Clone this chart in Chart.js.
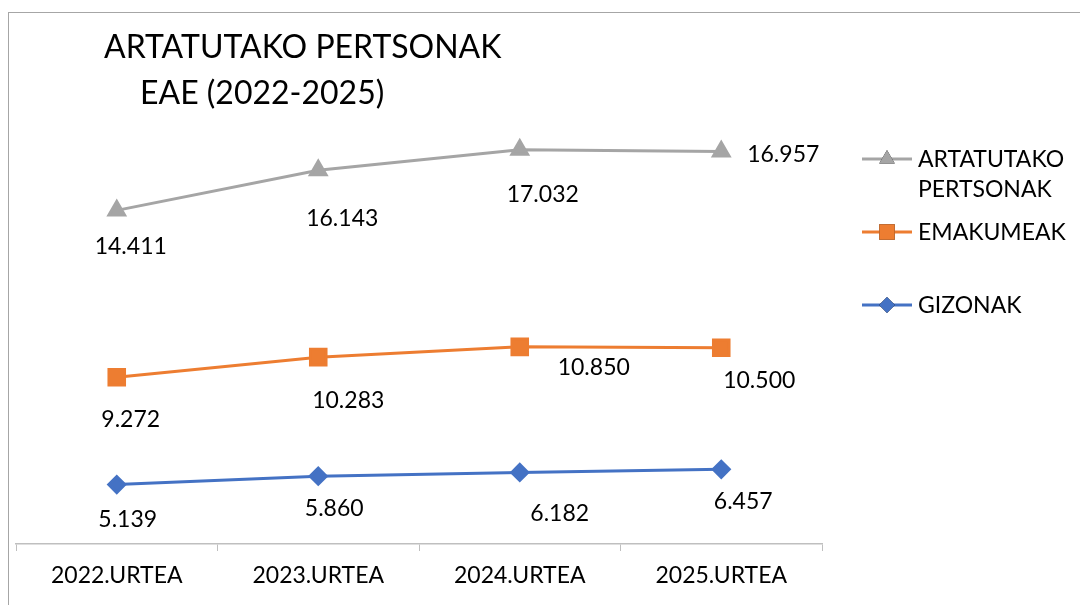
<!DOCTYPE html>
<html>
<head>
<meta charset="utf-8">
<script src="https://cdn.jsdelivr.net/npm/chart.js@4.4.1/dist/chart.umd.min.js"></script>
<style>
  html, body { margin: 0; padding: 0; background: #fff; }
  #wrap { width: 1080px; height: 605px; }
</style>
</head>
<body>
<div id="wrap"><canvas id="chart" width="1080" height="605"></canvas></div>
<script>
// categories and values (stacked line, like the Excel original)
const years = ['2022.URTEA', '2023.URTEA', '2024.URTEA', '2025.URTEA'];
const gizonak = [5139, 5860, 6182, 6457];
const emakumeak = [9272, 10283, 10850, 10500];
const artatutakoak = [14411, 16143, 17032, 16957];

// where each value label sits relative to its point (dx, dy)
const offsGizonak = [[11, 35], [16, 32], [40, 41], [22, 32]];
const offsEmakumeak = [[14, 42], [30, 43], [74, 21], [38, 33]];
const offsArtatutakoak = [[14, 36], [24, 48], [23, 45], [62, 3]];

const FONT = 'Lato, "Open Sans", sans-serif';
const GREY = '#A5A5A5';
const ORANGE = '#ED7D31';
const BLUE = '#4472C4';

function fmt(v) {
  return String(v).replace(/\B(?=(\d{3})+(?!\d))/g, '.');
}

const chartDeco = {
  id: 'chartDeco',
  beforeDraw(chart) {
    const ctx = chart.ctx;
    ctx.save();
    ctx.fillStyle = '#fff';
    ctx.fillRect(0, 0, chart.width, chart.height);
    ctx.strokeStyle = '#A6A6A6';
    ctx.lineWidth = 1;
    ctx.strokeRect(8.5, 12.5, 1300, 800);
    ctx.restore();
  },
  afterDraw(chart) {
    const ctx = chart.ctx;
    ctx.save();
    // title
    ctx.fillStyle = '#000';
    ctx.textBaseline = 'middle';
    ctx.textAlign = 'left';
    ctx.font = '32px ' + FONT;
    ctx.fillText('ARTATUTAKO PERTSONAK', 104, 48);
    ctx.fillText('EAE (2022-2025)', 140, 94);

    // value labels
    ctx.font = '23px ' + FONT;
    ctx.textAlign = 'center';
    chart.data.datasets.forEach((ds, i) => {
      const meta = chart.getDatasetMeta(i);
      meta.data.forEach((pt, j) => {
        const o = ds.labelOffsets[j];
        ctx.fillText(fmt(ds.data[j]), pt.x + o[0], pt.y + o[1]);
      });
    });

    // legend (drawn by hand so the two-line entry sits like the original)
    const items = [
      { ds: 2, y: 159, text: ['ARTATUTAKO', 'PERTSONAK'] },
      { ds: 1, y: 232, text: ['EMAKUMEAK'] },
      { ds: 0, y: 305, text: ['GIZONAK'] }
    ];
    items.forEach((it) => {
      const ds = chart.data.datasets[it.ds];
      ctx.strokeStyle = ds.borderColor;
      ctx.lineWidth = 3;
      ctx.beginPath();
      ctx.moveTo(862, it.y);
      ctx.lineTo(912, it.y);
      ctx.stroke();
      Chart.helpers.drawPoint(ctx, {
        pointStyle: ds.pointStyle,
        radius: ds.pointRadius,
        borderWidth: 0
      }, 887, it.y);
      ctx.fillStyle = ds.pointBackgroundColor;
      ctx.fill();
      ctx.fillStyle = '#000';
      ctx.textAlign = 'left';
      ctx.font = '23px ' + FONT;
      it.text.forEach((t, k) => ctx.fillText(t, 918, it.y + 1 + k * 30));
    });
    ctx.restore();
  }
};

new Chart(document.getElementById('chart'), {
  type: 'line',
  data: {
    labels: years,
    datasets: [
      {
        label: 'GIZONAK',
        data: gizonak,
        labelOffsets: offsGizonak,
        borderColor: BLUE,
        backgroundColor: BLUE,
        pointBackgroundColor: BLUE,
        pointBorderColor: BLUE,
        pointStyle: 'rectRot',
        pointRadius: 8,
        borderWidth: 3
      },
      {
        label: 'EMAKUMEAK',
        data: emakumeak,
        labelOffsets: offsEmakumeak,
        borderColor: ORANGE,
        backgroundColor: ORANGE,
        pointBackgroundColor: ORANGE,
        pointBorderColor: ORANGE,
        pointStyle: 'rect',
        pointRadius: 11,
        borderWidth: 3
      },
      {
        label: 'ARTATUTAKO PERTSONAK',
        data: artatutakoak,
        labelOffsets: offsArtatutakoak,
        borderColor: GREY,
        backgroundColor: GREY,
        pointBackgroundColor: GREY,
        pointBorderColor: GREY,
        pointStyle: 'triangle',
        pointRadius: 9,
        borderWidth: 3
      }
    ]
  },
  options: {
    responsive: false,
    animation: false,
    layout: { padding: { left: 16, right: 258, top: 81, bottom: 0 } },
    plugins: {
      legend: { display: false },
      title: { display: false },
      tooltip: { enabled: false }
    },
    elements: { point: { borderWidth: 0 }, line: { tension: 0 } },
    scales: {
      x: {
        offset: true,
        grid: {
          offset: true,
          drawOnChartArea: false,
          drawTicks: true,
          tickLength: 7,
          color: '#BFBFBF'
        },
        border: { display: true, color: '#BFBFBF', width: 1.5 },
        ticks: {
          color: '#000',
          font: { family: FONT, size: 23 },
          padding: 11
        },
        afterFit(scale) { scale.height = 61; }
      },
      y: {
        display: false,
        stacked: true,
        min: 0,
        max: 40000
      }
    }
  },
  plugins: [chartDeco]
});
</script>
</body>
</html>
